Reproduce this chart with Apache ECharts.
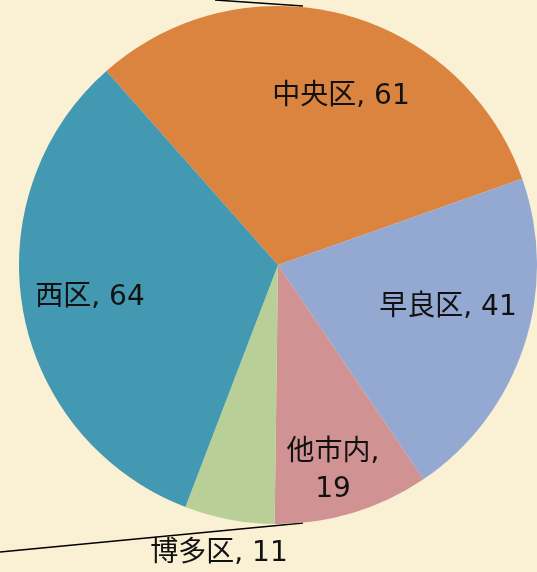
<!DOCTYPE html>
<html>
<head>
<meta charset="utf-8">
<script src="https://cdn.jsdelivr.net/npm/echarts@6/dist/echarts.min.js"></script>
<style>
html,body{margin:0;padding:0;background:#faf0d4;}
#chart{width:537px;height:572px;}
</style>
</head>
<body>
<div id="chart"></div>
<script>
// 区別の件数
let names = ["中央区", "早良区", "他市内", "博多区", "西区"]
let values = [61, 41, 19, 11, 64]
let colors = ["#da8440", "#94a9d1", "#d19293", "#b9cf98", "#4399b1"]

// label centres (text only)
let labelPos = [[341, 97], [448, 308], [333, 471], [219, 554], [90, 298]]

let data = []
for (let i = 0; i < names.length; i++) {
    data.push({
        name: names[i],
        value: values[i],
        itemStyle: {color: colors[i]},
        label: {position: i == 3 ? 'outside' : 'inside'}
    })
}

let pieChart = echarts.init(document.getElementById('chart'))
pieChart.setOption({
    backgroundColor: '#faf0d4',
    animation: false,
    series: [
        {
            type: 'pie',
            center: [278, 265],
            radius: 259,
            startAngle: 131.5,
            clockwise: true,
            data: data,
            itemStyle: {borderWidth: 0},
            label: {
                show: true,
                color: '#111',
                fontSize: 28,
                fontFamily: '"DejaVu Sans", "Noto Sans CJK JP", sans-serif',
                lineHeight: 37,
                align: 'center',
                verticalAlign: 'middle',
                formatter: function (p) {
                    if (p.name == '他市内') {
                        return p.name + ',\n' + p.value
                    }
                    return p.name + ', ' + p.value
                }
            },
            labelLine: {show: false},
            labelLayout: function (params) {
                let pos = labelPos[params.dataIndex]
                return {x: pos[0], y: pos[1], align: 'center', verticalAlign: 'middle'}
            }
        }
    ],
    graphic: [
        {
            type: 'polyline',
            shape: {points: [[303, 523], [0, 552]]},
            style: {stroke: '#000', lineWidth: 1.5, fill: null}
        },
        {
            type: 'polyline',
            shape: {points: [[215, 0], [303, 6]]},
            style: {stroke: '#000', lineWidth: 1.5, fill: null}
        }
    ]
})
</script>
</body>
</html>
